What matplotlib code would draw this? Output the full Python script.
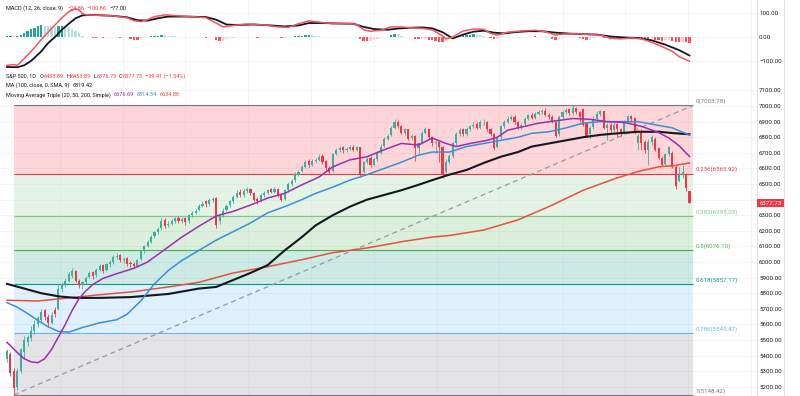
import numpy as np
import matplotlib
matplotlib.use('Agg')
import matplotlib.pyplot as plt
import matplotlib.transforms as mtransforms
from matplotlib.lines import Line2D

plt.rcParams['font.family'] = ['Roboto', 'DejaVu Sans']

# --- daily candles (bar index 0..199) ---
opens = [
    5380, 5410, 5300, 5200, 5300, 5420, 5490, 5515, 5560, 5600,
    5630, 5690, 5650, 5610, 5690, 5700, 5830, 5860, 5880, 5910,
    5940, 5880, 5850, 5870, 5905, 5935, 5915, 5950, 5980, 5950,
    5985, 6000, 6030, 6045, 6010, 6025, 5995, 5990, 5975, 6020,
    6070, 6105, 6130, 6165, 6190, 6215, 6270, 6235, 6245, 6260,
    6285, 6260, 6280, 6260, 6300, 6315, 6335, 6360, 6390, 6370,
    6395, 6410, 6260, 6300, 6335, 6365, 6390, 6420, 6450, 6430,
    6455, 6465, 6440, 6405, 6395, 6430, 6445, 6465, 6450, 6470,
    6430, 6405, 6460, 6500, 6525, 6560, 6585, 6610, 6645, 6625,
    6645, 6655, 6680, 6645, 6600, 6585, 6695, 6715, 6735, 6715,
    6725, 6740, 6720, 6735, 6580, 6640, 6665, 6625, 6660, 6700,
    6745, 6790, 6815, 6860, 6900, 6870, 6830, 6850, 6795, 6810,
    6730, 6765, 6830, 6850, 6800, 6760, 6770, 6740, 6580, 6640,
    6680, 6760, 6820, 6850, 6820, 6855, 6870, 6885, 6860, 6895,
    6900, 6850, 6820, 6740, 6800, 6870, 6900, 6920, 6930, 6895,
    6860, 6885, 6920, 6945, 6925, 6950, 6960, 6970, 6945, 6930,
    6900, 6820, 6930, 6960, 6980, 6955, 6990, 6960, 6980, 6890,
    6820, 6865, 6920, 6950, 6965, 6860, 6880, 6845, 6885, 6850,
    6830, 6900, 6935, 6925, 6760, 6830, 6770, 6720, 6770, 6790,
    6730, 6670, 6630, 6690, 6700, 6610, 6520, 6560, 6560, 6453.89]
highs = [
    5445, 5420, 5320, 5320, 5450, 5525, 5535, 5590, 5630, 5655,
    5700, 5700, 5665, 5680, 5710, 5850, 5875, 5895, 5935, 5960,
    5950, 5890, 5880, 5910, 5945, 5945, 5960, 5990, 5985, 5995,
    6010, 6045, 6055, 6050, 6035, 6030, 6005, 6000, 6020, 6080,
    6110, 6140, 6170, 6200, 6225, 6280, 6280, 6260, 6275, 6290,
    6295, 6290, 6290, 6310, 6330, 6340, 6370, 6390, 6400, 6410,
    6420, 6420, 6310, 6345, 6370, 6400, 6430, 6460, 6465, 6470,
    6480, 6475, 6450, 6415, 6440, 6455, 6470, 6475, 6480, 6475,
    6440, 6470, 6510, 6535, 6575, 6590, 6625, 6655, 6660, 6660,
    6670, 6690, 6690, 6655, 6615, 6700, 6730, 6745, 6745, 6740,
    6750, 6750, 6745, 6740, 6650, 6675, 6680, 6670, 6710, 6755,
    6800, 6820, 6870, 6915, 6910, 6880, 6860, 6855, 6820, 6815,
    6770, 6840, 6865, 6855, 6810, 6780, 6780, 6745, 6660, 6690,
    6770, 6835, 6860, 6860, 6865, 6880, 6895, 6895, 6910, 6915,
    6905, 6860, 6825, 6810, 6880, 6910, 6935, 6945, 6940, 6905,
    6890, 6930, 6950, 6955, 6960, 6975, 6980, 6985, 6955, 6940,
    6905, 6940, 6970, 6990, 6985, 7003.78, 6995, 6970, 6985, 6900,
    6870, 6935, 6965, 6975, 6970, 6890, 6890, 6895, 6890, 6860,
    6910, 6945, 6945, 6930, 6830, 6850, 6780, 6790, 6815, 6800,
    6740, 6680, 6700, 6745, 6710, 6620, 6610, 6620, 6570, 6453.89]
lows = [
    5360, 5270, 5148.42, 5180, 5290, 5380, 5460, 5495, 5540, 5585,
    5620, 5630, 5590, 5600, 5650, 5690, 5810, 5840, 5870, 5900,
    5870, 5835, 5830, 5860, 5895, 5890, 5905, 5940, 5930, 5940,
    5970, 5990, 6020, 6000, 5995, 5975, 5970, 5960, 5965, 6010,
    6060, 6095, 6120, 6155, 6180, 6205, 6220, 6225, 6235, 6250,
    6250, 6250, 6240, 6250, 6290, 6305, 6325, 6350, 6355, 6360,
    6385, 6220, 6245, 6290, 6325, 6350, 6380, 6410, 6420, 6420,
    6445, 6430, 6390, 6375, 6385, 6420, 6435, 6440, 6440, 6420,
    6390, 6400, 6450, 6490, 6515, 6550, 6575, 6600, 6610, 6615,
    6635, 6645, 6630, 6590, 6565, 6580, 6685, 6705, 6700, 6705,
    6715, 6710, 6710, 6545, 6570, 6630, 6610, 6615, 6650, 6690,
    6735, 6780, 6805, 6850, 6860, 6820, 6815, 6780, 6780, 6650,
    6700, 6755, 6820, 6790, 6745, 6700, 6640, 6540, 6570, 6630,
    6670, 6750, 6810, 6810, 6810, 6840, 6860, 6850, 6850, 6880,
    6840, 6810, 6720, 6730, 6790, 6860, 6890, 6910, 6885, 6850,
    6850, 6875, 6910, 6915, 6915, 6940, 6950, 6935, 6920, 6890,
    6800, 6810, 6920, 6950, 6945, 6945, 6950, 6900, 6870, 6800,
    6790, 6855, 6910, 6935, 6850, 6780, 6830, 6835, 6800, 6810,
    6820, 6890, 6900, 6820, 6720, 6720, 6700, 6620, 6750, 6710,
    6660, 6615, 6620, 6680, 6600, 6470, 6510, 6540, 6455, 6376.73]
closes = [
    5430, 5290, 5190, 5300, 5440, 5500, 5520, 5560, 5600, 5640,
    5680, 5650, 5610, 5660, 5665, 5830, 5860, 5880, 5920, 5940,
    5880, 5850, 5870, 5900, 5930, 5910, 5950, 5975, 5945, 5985,
    6000, 6030, 6040, 6010, 6020, 5990, 5985, 5975, 6010, 6070,
    6100, 6130, 6160, 6190, 6210, 6265, 6230, 6245, 6260, 6280,
    6260, 6275, 6255, 6300, 6315, 6330, 6360, 6375, 6370, 6395,
    6405, 6240, 6300, 6330, 6360, 6390, 6420, 6445, 6430, 6455,
    6465, 6440, 6400, 6390, 6430, 6445, 6460, 6450, 6465, 6430,
    6400, 6460, 6500, 6520, 6560, 6580, 6610, 6640, 6625, 6645,
    6655, 6675, 6640, 6600, 6580, 6690, 6715, 6730, 6715, 6725,
    6735, 6720, 6735, 6560, 6640, 6660, 6620, 6660, 6700, 6740,
    6790, 6810, 6860, 6900, 6870, 6830, 6850, 6790, 6810, 6730,
    6760, 6830, 6850, 6800, 6760, 6770, 6735, 6560, 6640, 6680,
    6760, 6820, 6845, 6820, 6850, 6870, 6880, 6860, 6895, 6900,
    6850, 6820, 6730, 6800, 6870, 6900, 6920, 6930, 6895, 6860,
    6880, 6920, 6940, 6925, 6950, 6960, 6965, 6945, 6930, 6900,
    6810, 6930, 6960, 6975, 6955, 6990, 6960, 6930, 6880, 6810,
    6860, 6920, 6950, 6965, 6860, 6880, 6845, 6880, 6850, 6830,
    6900, 6935, 6920, 6830, 6810, 6760, 6720, 6770, 6800, 6720,
    6670, 6625, 6690, 6735, 6610, 6490, 6560, 6580, 6477.14, 6377.73]

# --- moving averages, read at selected bars ---
ma20_bars = [0, 3, 5, 7, 9, 11, 13, 15, 17, 19, 21, 23, 25, 28, 32, 37, 41, 46, 51, 56,
             61, 66, 71, 76, 81, 86, 91, 95, 100, 105, 110, 115, 120, 124, 128, 131, 135,
             140, 143, 146, 150, 155, 160, 165, 170, 175, 180, 185, 190, 193, 196, 199]
ma20_vals = [5485, 5420, 5380, 5360, 5355, 5380, 5440, 5520, 5600, 5690, 5765, 5815, 5855,
             5895, 5925, 5960, 6000, 6080, 6160, 6230, 6295, 6325, 6365, 6410, 6440, 6495,
             6545, 6610, 6655, 6675, 6720, 6760, 6750, 6795, 6760, 6740, 6760, 6780, 6800,
             6845, 6865, 6890, 6905, 6920, 6915, 6900, 6895, 6870, 6830, 6795, 6745, 6677]
ma50_bars = [0, 3, 6, 9, 12, 15, 18, 22, 27, 32, 35, 39, 43, 47, 51, 56, 61, 66, 71, 76,
             81, 86, 90, 95, 100, 105, 110, 115, 120, 124, 129, 134, 139, 144, 149, 153,
             158, 163, 168, 173, 178, 184, 189, 194, 199]
ma50_vals = [5740, 5710, 5670, 5625, 5585, 5555, 5550, 5580, 5610, 5630, 5665, 5750, 5860,
             5945, 6010, 6075, 6140, 6195, 6250, 6315, 6355, 6400, 6440, 6480, 6525, 6560,
             6600, 6640, 6685, 6705, 6705, 6740, 6760, 6780, 6800, 6825, 6835, 6860, 6890,
             6900, 6900, 6900, 6880, 6860, 6814]
ma100_bars = [0, 5, 10, 15, 20, 27, 36, 47, 56, 61, 66, 71, 76, 81, 86, 90, 95, 100, 105,
              110, 115, 120, 124, 129, 134, 139, 144, 149, 153, 158, 163, 168, 173, 178,
              184, 190, 195, 199]
ma100_vals = [5860, 5830, 5800, 5780, 5770, 5770, 5775, 5795, 5830, 5840, 5885, 5930, 5980,
              6075, 6160, 6235, 6300, 6355, 6400, 6430, 6460, 6495, 6525, 6560, 6590, 6635,
              6675, 6705, 6740, 6760, 6780, 6800, 6815, 6825, 6835, 6835, 6825, 6819]
ma200_bars = [0, 9, 18, 27, 37, 47, 56, 66, 76, 86, 95, 105, 115, 124, 129, 139, 149, 158,
              168, 178, 184, 190, 195, 199]
ma200_vals = [5755, 5750, 5770, 5790, 5810, 5840, 5870, 5930, 5970, 6015, 6060, 6090, 6130,
              6160, 6170, 6205, 6270, 6355, 6460, 6540, 6580, 6610, 6620, 6635]

# --- MACD (12, 26, 9) ---
macd_bars = [0, 2, 3, 4, 6, 8, 10, 12, 14, 16, 18, 20, 21, 22, 23, 27, 31, 35, 37, 39, 41,
             43, 46, 50, 55, 58, 61, 63, 66, 70, 75, 79, 82, 85, 88, 91, 95, 100, 102, 104,
             106, 109, 112, 115, 118, 121, 124, 127, 128, 130, 133, 136, 139, 141, 143, 146,
             150, 154, 157, 160, 162, 166, 170, 173, 176, 179, 182, 185, 188, 191, 194, 196,
             198, 199]
macd_vals = [-118, -115, -118, -105, -75, -45, -10, 20, 50, 80, 105, 118, 112, 98, 92, 90,
             88, 80, 68, 64, 72, 85, 92, 88, 84, 80, 58, 42, 48, 54, 50, 42, 40, 55, 67, 62,
             55, 56, 52, 30, 24, 28, 42, 42, 38, 36, 30, 5, -8, 0, 25, 33, 32, 15, 8, 20, 25,
             28, 22, 8, 12, 14, 10, 8, -5, -8, -4, -8, -22, -40, -60, -82, -95, -100.86]
signal_bars = [0, 3, 5, 7, 10, 12, 14, 16, 18, 20, 22, 25, 31, 35, 38, 41, 44, 47, 52, 58,
               61, 64, 67, 72, 77, 81, 85, 88, 92, 97, 101, 104, 107, 111, 114, 117, 121,
               124, 127, 130, 133, 136, 139, 142, 145, 148, 152, 156, 160, 164, 168, 172,
               176, 180, 184, 188, 192, 196, 199]
signal_vals = [-125, -126, -118, -100, -60, -25, 0, 30, 55, 78, 90, 92, 88, 82, 70, 68, 78,
               85, 85, 83, 72, 52, 50, 52, 48, 44, 48, 58, 58, 56, 55, 42, 33, 30, 35, 38, 40,
               36, 20, -6, 10, 22, 26, 18, 15, 20, 24, 24, 18, 14, 12, 10, 2, -2, -4, -14,
               -32, -55, -77]
hist = [
    3, 4, 3, 5, 10, 18, 25, 32, 38, 44,
    50, 47, 45, 44, 43, 45, 46, 44, 40, 34,
    26, 15, 6, 1, -2, -3, -4, -3, -4, -2,
    -1, -2, 0, -3, -1, -2, -8, -12, -14, -10,
    -6, 1, 3, 5, 6, 8, 7, 6, 5, 4,
    2, 1, 0, -1, 0, 1, 0, -2, -3, -2,
    -1, -12, -18, -15, -10, -6, -4, -2, 0, 1,
    1, 0, -2, -3, -2, 0, 1, 0, -1, -2,
    -4, -3, -1, 1, 3, 5, 6, 7, 8, 7,
    6, 5, 2, 0, -2, -1, 1, 2, 1, 0,
    1, 0, -1, -10, -15, -18, -16, -12, -7, -4,
    -1, 2, 10, 14, 12, 4, 2, 0, -2, -8,
    -10, -9, -8, -12, -14, -17, -19, -20, -15, -10,
    -6, -2, 4, 7, 9, 10, 11, 10, 8, 5,
    2, -5, -10, -8, -3, -1, 0, 1, 0, -1,
    0, 1, 2, 2, 3, 2, 1, 0, -1, -8,
    -12, -10, -3, -1, 0, 1, 0, -5, -10, -14,
    -12, -3, -1, 0, -3, -5, -7, -8, -7, -6,
    -4, -2, -2, -4, -6, -8, -10, -11, -10, -12,
    -13, -15, -14, -12, -15, -20, -21, -20, -22, -23.86]

# --- Fibonacci retracement (low anchor bar 2, right end bar 200) ---
fib_labels = ['0', '0.236', '0.382', '0.5', '0.618', '0.786', '1']
fib_prices = [7003.78, 6565.92, 6295.03, 6076.10, 5857.17, 5545.47, 5148.42]
fib_colors = ['#787b86', '#f23645', '#81c784', '#4caf50', '#089981', '#64b5f6', '#787b86']
fib_x0, fib_x1 = 2, 200

W, H = 800, 396
TXT = '#131722'
UP, DOWN = '#3fae9f', '#f23645'
C20, C50, C100, C200 = '#9c2fae', '#3d8ed8', '#131722', '#e4523b'
FS = 4.4
FS_LEG = 4.0


def fbox(x0, y0, x1, y1):
    return [x0 / W, 1 - y1 / H, (x1 - x0) / W, (y1 - y0) / H]


fig = plt.figure(figsize=(W / 100, H / 100), dpi=100)
ax_m = fig.add_axes(fbox(0, 0, 757, 70))
ax = fig.add_axes(fbox(0, 70, 757, 396))

bars = np.arange(len(closes))
o, h, l, c = map(np.array, (opens, highs, lows, closes))
vgrid = [15.5, 33.8, 52, 70.3, 88.6, 107, 125.3, 143.6, 162, 180.3, 198.6, 217]

for a in (ax, ax_m):
    a.set_xlim(-2.04, 218.7)
    a.set_xticks([])
    a.yaxis.tick_right()
    a.tick_params(axis='y', length=0, pad=1.5, labelsize=FS, labelcolor=TXT)
    for s in ('left', 'top', 'bottom'):
        a.spines[s].set_visible(False)
    a.spines['right'].set_color('#e0e3eb')
    a.spines['right'].set_linewidth(0.8)
    for gx in vgrid:
        a.axvline(gx, color='#f0f2f6', lw=0.5, zorder=0)

# main pane
ax.set_ylim(5141, 7231)
yt = np.arange(5200, 7101, 100)
ax.set_yticks(yt)
# the 6400 label sits under the last-price tag
ax.set_yticklabels(['' if v == 6400 else f'{v:.2f}' for v in yt])
for v in yt:
    ax.axhline(v, color='#eef0f4', lw=0.5, zorder=0)

for i in range(1, len(fib_prices)):
    ax.fill_between([fib_x0, fib_x1], fib_prices[i], fib_prices[i - 1],
                    color=fib_colors[i], alpha=0.2, lw=0, zorder=1)
for lab, p, col in zip(fib_labels, fib_prices, fib_colors):
    ax.hlines(p, fib_x0, fib_x1, color=col, lw=0.8, zorder=1.5)
    ax.text(fib_x1 + 0.8, p + 8, f'{lab}({p:.2f})', color=col, fontsize=FS,
            va='bottom', ha='left', zorder=5)
ax.plot([fib_x0, fib_x1], [fib_prices[-1], fib_prices[0]], color='#9598a1',
        lw=0.9, ls=(0, (4, 3)), zorder=2)

cols = np.where(c >= o, UP, DOWN)
ax.vlines(bars, l, h, colors=cols, lw=0.6, zorder=3)
ax.bar(bars, np.maximum(np.abs(c - o), 4), bottom=np.minimum(o, c), width=0.62,
       color=cols, lw=0, zorder=3)

ax.plot(ma200_bars, ma200_vals, color=C200, lw=1.1, zorder=4)
ax.plot(ma100_bars, ma100_vals, color=C100, lw=1.5, zorder=4)
ax.plot(ma50_bars, ma50_vals, color=C50, lw=1.1, zorder=4)
ax.plot(ma20_bars, ma20_vals, color=C20, lw=1.1, zorder=4)

tr = mtransforms.blended_transform_factory(ax.transAxes, ax.transData)
ax.text(1.003, closes[-1], f'{closes[-1]:.2f}', transform=tr, color='white',
        fontsize=FS, va='center', ha='left', zorder=10, clip_on=False,
        bbox=dict(boxstyle='square,pad=0.3', fc=DOWN, ec='none'))

# MACD pane
ax_m.set_ylim(-137.5, 154)
ax_m.set_yticks([-100, 0, 100])
ax_m.set_yticklabels(['\u2212100.00', '0.00', '100.00'])
for v in (-100, 0, 100):
    ax_m.axhline(v, color='#eef0f4', lw=0.5, zorder=0)
ax_m.spines['bottom'].set_visible(True)
ax_m.spines['bottom'].set_color('#e0e3eb')

hcol = []
for i, v in enumerate(hist):
    prev = hist[i - 1] if i else v
    if v >= 0:
        hcol.append('#26a69a' if v >= prev else '#b2dfdb')
    else:
        hcol.append('#ffcdd2' if v >= prev else '#ff5252')
ax_m.bar(bars, hist, width=0.7, color=hcol, lw=0, zorder=2)
ax_m.plot(signal_bars, signal_vals, color='#131722', lw=1.3, zorder=3)
ax_m.plot(macd_bars, macd_vals, color='#f7525f', lw=1.1, zorder=4)

fig.add_artist(Line2D([784 / W, 784 / W], [0, 1], color='#e0e3eb', lw=0.8))

# legends
renderer = fig.canvas.get_renderer()


def put_runs(x_px, y_px, runs):
    x = x_px / W
    for txt, col, gap in runs:
        t = fig.text(x, 1 - y_px / H, txt, color=col, fontsize=FS_LEG, va='center', ha='left')
        x += (t.get_window_extent(renderer=renderer).width + gap) / W


put_runs(6, 8.5, [('MACD (12, 26, close, 9)', TXT, 4), ('\u221223.86', DOWN, 3),
                  ('\u2212100.86', DOWN, 3), ('\u221277.00', TXT, 0)])
put_runs(6, 76, [('S&P 500, 1D', TXT, 4), ('O', TXT, 0), ('6453.89', DOWN, 2.5),
                 ('H', TXT, 0), ('6453.89', DOWN, 2.5), ('L', TXT, 0), ('6376.73', DOWN, 2.5),
                 ('C', TXT, 0), ('6377.73', DOWN, 2.5), ('\u221299.41 (\u22121.54%)', DOWN, 0)])
put_runs(6, 85.5, [('MA (100, close, 0, SMA, 9)', TXT, 3), ('6819.42', TXT, 0)])
put_runs(6, 95, [('Moving Average Triple (20, 50, 200, Simple)', TXT, 3), ('6676.69', C20, 3),
                 ('6814.34', C50, 3), ('6634.88', C200, 0)])

fig.savefig('out.png', dpi=100)
